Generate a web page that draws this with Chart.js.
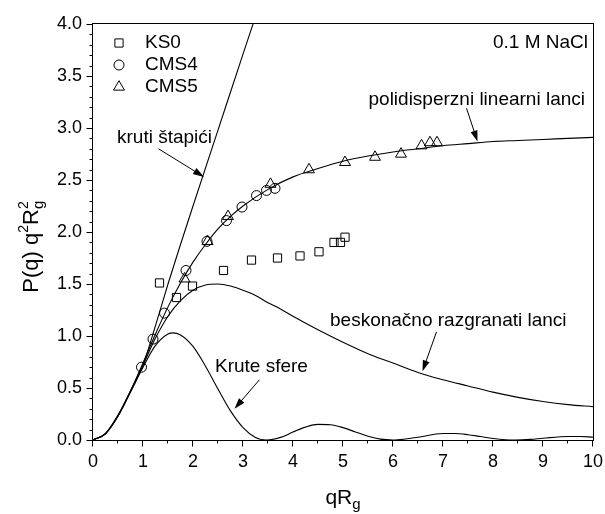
<!DOCTYPE html>
<html>
<head>
<meta charset="utf-8">
<script src="https://cdn.jsdelivr.net/npm/chart.js@4"></script>
<style>
body { margin: 0; background: #fff; }
#wrap { width: 605px; height: 514px; }
</style>
</head>
<body>
<div id="wrap"><canvas id="chart" width="605" height="514"></canvas></div>
<script>
// model curves
let rodsX = [0, 0.25, 0.5, 0.75, 1.0, 1.25, 1.5, 1.75, 2.0, 2.5, 3.0, 3.25];
let rodsY = [0, 0.062, 0.24, 0.47, 0.72, 1.1, 1.5, 1.88, 2.25, 2.98, 3.71, 4.07];

let polyX = [0, 0.25, 0.5, 0.75, 1, 1.25, 1.5, 1.75, 2, 2.25, 2.5, 2.75, 3, 3.5, 4, 4.5, 5, 5.5, 6, 6.5, 7, 7.5, 8, 8.5, 9, 9.5, 10];
let polyY = [0, 0.061, 0.23, 0.47, 0.74, 1.02, 1.28, 1.51, 1.71, 1.88, 2.03, 2.15, 2.25, 2.41, 2.53, 2.61, 2.68, 2.73, 2.77, 2.80, 2.83, 2.85, 2.87, 2.88, 2.89, 2.90, 2.91];

let branchX = [0, 0.25, 0.5, 0.75, 1, 1.25, 1.5, 1.75, 2, 2.25, 2.5, 2.75, 3, 3.25, 3.5, 3.75, 4, 4.5, 5, 5.5, 6, 6.5, 7, 7.5, 8, 8.5, 9, 9.5, 10];
let branchY = [0, 0.061, 0.23, 0.47, 0.72, 0.98, 1.19, 1.34, 1.44, 1.49, 1.50, 1.48, 1.44, 1.39, 1.32, 1.26, 1.19, 1.06, 0.94, 0.83, 0.74, 0.65, 0.58, 0.52, 0.46, 0.41, 0.37, 0.34, 0.32];

let sphereX = [0, 0.25, 0.5, 0.75, 1, 1.25, 1.5, 1.6, 1.75, 2, 2.25, 2.5, 2.75, 3, 3.25, 3.47, 3.75, 4, 4.25, 4.5, 4.75, 5, 5.25, 5.5, 5.75, 6, 6.25, 6.5, 7, 7.25, 7.5, 7.75, 8, 8.25, 8.45, 8.75, 9, 9.5, 9.75, 10];
let sphereY = [0, 0.06, 0.23, 0.46, 0.70, 0.91, 1.02, 1.03, 1.01, 0.90, 0.71, 0.49, 0.28, 0.12, 0.025, 0, 0.025, 0.076, 0.124, 0.15, 0.147, 0.119, 0.077, 0.036, 0.008, 0, 0.01, 0.027, 0.062, 0.062, 0.051, 0.033, 0.015, 0.003, 0, 0.006, 0.017, 0.034, 0.034, 0.027];

// measured samples
let ks0X = [1.33, 1.67, 1.99, 2.61, 3.17, 3.69, 4.14, 4.52, 4.82, 4.95, 5.04];
let ks0Y = [1.51, 1.37, 1.48, 1.63, 1.73, 1.75, 1.77, 1.81, 1.90, 1.90, 1.95];
let cms4X = [0.97, 1.20, 1.43, 1.86, 2.28, 2.67, 2.98, 3.27, 3.47, 3.64];
let cms4Y = [0.70, 0.97, 1.22, 1.63, 1.91, 2.11, 2.24, 2.35, 2.40, 2.42];
let cms5X = [1.83, 2.29, 2.70, 3.55, 4.32, 5.04, 5.64, 6.16, 6.57, 6.74, 6.88];
let cms5Y = [1.55, 1.91, 2.15, 2.46, 2.60, 2.67, 2.72, 2.75, 2.83, 2.86, 2.86];

let xTicks = [0, 1, 2, 3, 4, 5, 6, 7, 8, 9, 10];
let yTicks = [0, 0.5, 1, 1.5, 2, 2.5, 3, 3.5, 4];

const FONT = "'Liberation Sans', Arial, sans-serif";

function pts(xs, ys) {
    return xs.map((x, i) => ({x: x, y: ys[i]}));
}

function curve(label, xs, ys) {
    return {
        label: label,
        data: pts(xs, ys),
        showLine: true,
        pointRadius: 0,
        borderColor: '#000',
        borderWidth: 1.1,
        cubicInterpolationMode: 'monotone',
        fill: false
    }
}

function markers(label, xs, ys, style, r) {
    return {
        label: label,
        data: pts(xs, ys),
        showLine: false,
        pointStyle: style,
        pointRadius: r,
        pointBorderWidth: 1,
        borderColor: '#000',
        backgroundColor: 'rgba(0,0,0,0)'
    }
}

// text labels with arrows, positions in data units
let notes = [
    {text: 'kruti štapići', x: 0.48, y: 2.91, align: 'left', from: [1.31, 2.80], to: [2.22, 2.53]},
    {text: 'polidisperzni linearni lanci', x: 9.84, y: 3.27, align: 'right', from: [7.47, 3.19], to: [7.69, 2.87]},
    {text: 'beskonačno razgranati lanci', x: 4.74, y: 1.15, align: 'left', from: [6.87, 1.04], to: [6.59, 0.66]},
    {text: 'Krute sfere', x: 2.44, y: 0.70, align: 'left', from: [3.33, 0.58], to: [2.83, 0.30]},
    {text: '0.1 M NaCl', x: 9.9, y: 3.82, align: 'right'}
];

let legendItems = [['KS0', 'rect', 5.8], ['CMS4', 'circle', 5], ['CMS5', 'triangle', 6.3]];

function arrow(ctx, x1, y1, x2, y2) {
    let a = Math.atan2(y2 - y1, x2 - x1);
    let c = Math.cos(a), s = Math.sin(a);
    ctx.beginPath();
    ctx.moveTo(x1, y1);
    ctx.lineTo(x2 - 8 * c, y2 - 8 * s);
    ctx.stroke();
    ctx.beginPath();
    ctx.moveTo(x2, y2);
    ctx.lineTo(x2 - 11 * c + 3.5 * s, y2 - 11 * s - 3.5 * c);
    ctx.lineTo(x2 - 11 * c - 3.5 * s, y2 - 11 * s + 3.5 * c);
    ctx.closePath();
    ctx.fill();
}

// segments: [text, dy, size, advances]
function scripted(ctx, segs, x0, y0) {
    let w = 0;
    for (let s of segs) {
        ctx.font = s[2] + 'px ' + FONT;
        if (s[3]) w += ctx.measureText(s[0]).width;
    }
    let x = x0 - w / 2;
    for (let s of segs) {
        ctx.font = s[2] + 'px ' + FONT;
        ctx.fillText(s[0], x, y0 + s[1]);
        if (s[3]) x += ctx.measureText(s[0]).width;
    }
}

const extras = {
    id: 'extras',
    afterDraw(chart) {
        let ctx = chart.ctx, a = chart.chartArea;
        let xs = chart.scales.x, ys = chart.scales.y;
        ctx.save();
        ctx.strokeStyle = '#000';
        ctx.fillStyle = '#000';
        ctx.lineWidth = 1;
        let L = Math.round(a.left) - 0.5, R = Math.round(a.right) + 0.5;
        let T = Math.round(a.top) - 0.5, B = Math.round(a.bottom) + 0.5;
        ctx.strokeRect(L, T, R - L, B - T);

        // outside ticks, minor ones shorter
        ctx.beginPath();
        for (let i = 0; i <= 40; i++) {
            let py = Math.round(ys.getPixelForValue(i / 10)) + 0.5;
            let len = i % 5 === 0 ? 6 : 3;
            ctx.moveTo(L, py);
            ctx.lineTo(L - len, py);
        }
        for (let i = 0; i <= 20; i++) {
            let px = Math.round(xs.getPixelForValue(i / 2)) - 0.5;
            let len = i % 2 === 0 ? 6 : 3;
            ctx.moveTo(px, B);
            ctx.lineTo(px, B + len);
        }
        ctx.stroke();

        // axis titles
        ctx.textAlign = 'left';
        ctx.textBaseline = 'alphabetic';
        scripted(ctx, [['qR', 0, 21, true], ['g', 5, 15, true]], (a.left + a.right) / 2, 504);
        ctx.save();
        ctx.translate(38, 247);
        ctx.rotate(-Math.PI / 2);
        scripted(ctx, [['P(q) q', 0, 22, true], ['2', -10, 14, true], ['R', 0, 22, true], ['g', 5, 15, false], ['2', -10, 14, true]], 0, 0);
        ctx.restore();

        // annotations
        ctx.font = '19px ' + FONT;
        ctx.textBaseline = 'middle';
        for (let n of notes) {
            ctx.textAlign = n.align;
            ctx.fillText(n.text, xs.getPixelForValue(n.x), ys.getPixelForValue(n.y));
            if (n.from) {
                arrow(ctx, xs.getPixelForValue(n.from[0]), ys.getPixelForValue(n.from[1]),
                    xs.getPixelForValue(n.to[0]), ys.getPixelForValue(n.to[1]));
            }
        }

        // legend
        ctx.textAlign = 'left';
        legendItems.forEach((it, i) => {
            let cy = a.top + 19 + i * 22;
            ctx.fillStyle = 'rgba(0,0,0,0)';
            Chart.helpers.drawPoint(ctx, {pointStyle: it[1], radius: it[2], rotation: 0, borderWidth: 1}, a.left + 26, cy);
            ctx.fillStyle = '#000';
            ctx.fillText(it[0], a.left + 52, cy);
        });
        ctx.restore();
    }
};

let graph = new Chart(document.getElementById('chart'), {
    type: 'scatter',
    data: {
        datasets: [
            markers('KS0', ks0X, ks0Y, 'rect', 5.8),
            markers('CMS4', cms4X, cms4Y, 'circle', 5),
            markers('CMS5', cms5X, cms5Y, 'triangle', 6.3),
            curve('kruti štapići', rodsX, rodsY),
            curve('polidisperzni linearni lanci', polyX, polyY),
            curve('beskonačno razgranati lanci', branchX, branchY),
            curve('Krute sfere', sphereX, sphereY)
        ]
    },
    options: {
        responsive: false,
        animation: false,
        layout: {padding: {left: 0, top: 24, right: 12, bottom: 0}},
        plugins: {
            legend: {display: false},
            tooltip: {enabled: false}
        },
        scales: {
            x: {
                type: 'linear',
                min: 0,
                max: 10,
                afterFit: (s) => { s.height = 74; s.paddingLeft = 0; s.paddingRight = 0; },
                afterBuildTicks: (s) => { s.ticks = xTicks.map(v => ({value: v})); },
                grid: {display: false, drawTicks: false},
                border: {display: false},
                ticks: {color: '#000', padding: 11, font: {family: FONT, size: 18}}
            },
            y: {
                type: 'linear',
                min: 0,
                max: 4,
                afterFit: (s) => { s.width = 93; s.paddingTop = 0; s.paddingBottom = 0; },
                afterBuildTicks: (s) => { s.ticks = yTicks.map(v => ({value: v})); },
                grid: {display: false, drawTicks: false},
                border: {display: false},
                ticks: {color: '#000', padding: 11, font: {family: FONT, size: 18}, callback: (v) => v.toFixed(1)}
            }
        }
    },
    plugins: [extras]
});
</script>
</body>
</html>
